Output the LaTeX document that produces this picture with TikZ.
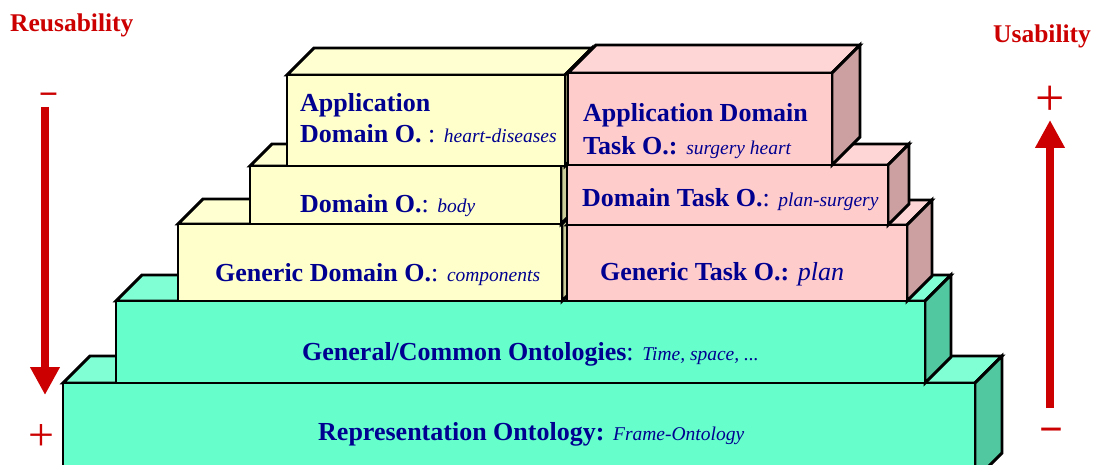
\documentclass[tikz,border=0pt]{standalone}
\usepackage{fontspec}
\setmainfont{Liberation Serif}
\usetikzlibrary{arrows.meta}
\definecolor{tealF}{HTML}{66FFCC}
\definecolor{tealT}{HTML}{80FFD4}
\definecolor{tealS}{HTML}{52C8A0}
\definecolor{yelF}{HTML}{FFFFCC}
\definecolor{yelT}{HTML}{FFFFD2}
\definecolor{yelS}{HTML}{CCCC99}
\definecolor{pinkF}{HTML}{FFCCCC}
\definecolor{pinkT}{HTML}{FFD6D6}
\definecolor{pinkS}{HTML}{CCA0A0}
\definecolor{navy}{HTML}{000090}
\definecolor{myred}{HTML}{CC0000}
% x1,y1,x2,y2,depth,front,top,side
\newcommand{\obox}[8]{%
  \filldraw[boxline,fill=#7] (#1,#2) -- ++(#5,-#5) -- ++({#3-#1},0) -- (#3,#2) -- cycle;
  \filldraw[boxline,fill=#8] (#3,#2) -- ++(#5,-#5) -- ++(0,{#4-#2}) -- (#3,#4) -- cycle;
  \filldraw[boxline,fill=#6] (#1,#2) rectangle (#3,#4);
}
\newcommand{\itl}[1]{{\fontsize{19.5}{24}\selectfont\mdseries\itshape #1}}
\newcommand{\rg}[1]{{\mdseries #1}}
\begin{document}
\begin{tikzpicture}[x=1pt,y=-1pt,
  boxline/.style={draw=black,line width=2.9pt,line join=miter},
  bt/.style={font=\fontsize{26}{30}\selectfont\bfseries,text=navy,inner sep=0pt,anchor=base west},
  redlbl/.style={font=\fontsize{25.5}{30}\selectfont\bfseries,text=myred,inner sep=0pt,anchor=base west},
  sign/.style={text=myred,inner sep=0pt},
  redarrow/.style={draw=myred,line width=8pt,-{Triangle[width=28pt,length=28pt]}}]
\useasboundingbox (0,0) rectangle (1094,465);
\clip (0,0) rectangle (1094,465);
\fill[white] (0,0) rectangle (1094,465);
% boxes, back to front
\obox{63}{383}{975}{480}{27}{tealF}{tealT}{tealS}
\obox{116}{301}{925}{383}{26}{tealF}{tealT}{tealS}
\obox{178}{224}{562}{301}{25}{yelF}{yelT}{yelS}
\obox{567}{225}{907}{301}{25}{pinkF}{pinkT}{pinkS}
\obox{250}{166}{561}{224}{22}{yelF}{yelT}{yelS}
\obox{567}{165}{888}{225}{21}{pinkF}{pinkT}{pinkS}
\obox{287}{75}{565}{166}{27}{yelF}{yelT}{yelS}
\obox{568}{73}{832}{165}{28}{pinkF}{pinkT}{pinkS}
% texts
\node[bt] (appd1) at (300,111.7) {Application};
\node[bt] (appd2) at (300,143) {Domain O. \rg{:} \itl{heart-diseases}};
\node[bt] (appt1) at (583,121.7) {Application Domain};
\node[bt] (appt2) at (583,155) {Task O.: \itl{surgery heart}};
\node[bt] (dom) at (300,212) {Domain O.\rg{:} \itl{body}};
\node[bt] (domt) at (582,207) {Domain Task O.\rg{:} \itl{plan-surgery}};
\node[bt] (gdom) at (215,281.5) {Generic Domain O.\rg{:} \itl{components}};
\node[bt] (gtask) at (600,280) {Generic Task O.: {\mdseries\itshape plan}};
\node[bt] (gen) at (302,360) {General/Common Ontologies\rg{:} \itl{Time, space, ...}};
\node[bt] (rep) at (318,440) {Representation Ontology: \itl{Frame-Ontology}};
% side labels and arrows
\node[redlbl] (reus) at (10,31.5) {Reusability};
\node[redlbl] (usab) at (993,43) {Usability};
\node[sign,font=\fontsize{34}{34}\selectfont\bfseries] (lminus) at (48.5,99) {−};
\node[sign,font=\fontsize{46}{46}\selectfont] (lplus) at (41.5,438) {+};
\node[sign,font=\fontsize{52}{52}\selectfont] (rplus) at (1050,101) {+};
\node[sign,font=\fontsize{42}{42}\selectfont\bfseries] (rminus) at (1051,436) {−};
\coordinate (la) at (45,107);
\coordinate (lb) at (45,395);
\coordinate (ra) at (1050,408);
\coordinate (rb) at (1050,120);
\draw[redarrow] (la) -- (lb);
\draw[redarrow] (ra) -- (rb);
\end{tikzpicture}
\end{document}
